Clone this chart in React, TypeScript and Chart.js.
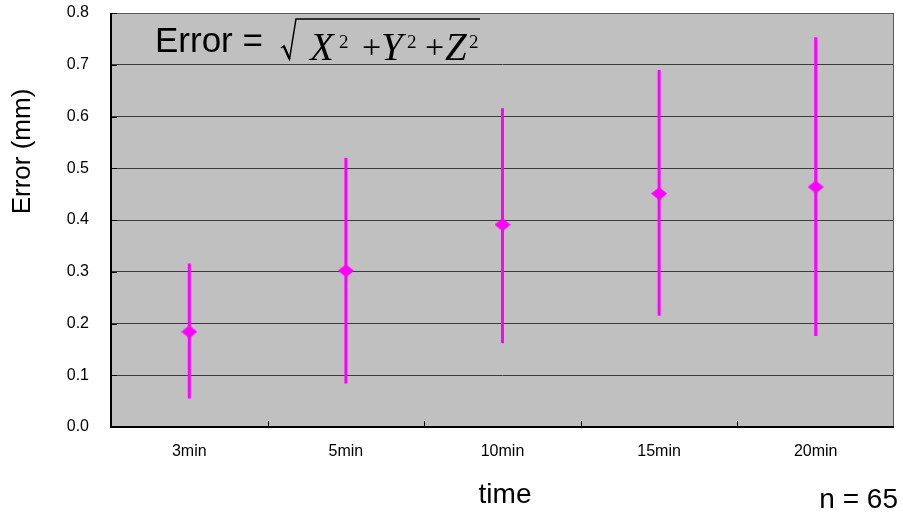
import React, { useEffect, useRef } from "react";
import { Chart, registerables } from "chart.js";

Chart.register(...registerables);

const categories = ["3min", "5min", "10min", "15min", "20min"];
const meanError = [0.184, 0.302, 0.391, 0.451, 0.464];
const upperError = [0.316, 0.52, 0.616, 0.69, 0.753];
const lowerError = [0.055, 0.084, 0.162, 0.215, 0.176];
const yMin = 0;
const yMax = 0.8;
const yStep = 0.1;
const yAxisTitle = "Error (mm)";
const xAxisTitle = "time";
const sampleNote = "n = 65";
const formulaLead = "Error =";
const formulaVars = ["X", "Y", "Z"];

const SANS = '"Liberation Sans", Arial, sans-serif';
const SERIF = '"Liberation Serif", "Times New Roman", serif';
const MAGENTA = "#FF00FF";

function makeDiamond(): HTMLCanvasElement {
  const c = document.createElement("canvas");
  c.width = 16;
  c.height = 13;
  const g = c.getContext("2d")!;
  g.fillStyle = MAGENTA;
  g.beginPath();
  g.moveTo(8, 0);
  g.lineTo(16, 6.5);
  g.lineTo(8, 13);
  g.lineTo(0, 6.5);
  g.closePath();
  g.fill();
  return c;
}

const plotBackground = {
  id: "plotBackground",
  beforeDraw(chart: any) {
    const { ctx, chartArea } = chart;
    ctx.save();
    ctx.fillStyle = "#C0C0C0";
    ctx.fillRect(chartArea.left, chartArea.top, chartArea.right - chartArea.left, chartArea.bottom - chartArea.top);
    ctx.restore();
  },
};

const errorBars = {
  id: "errorBars",
  beforeDatasetsDraw(chart: any) {
    const { ctx, scales } = chart;
    const x = scales.x;
    const y = scales.y;
    ctx.save();
    ctx.strokeStyle = MAGENTA;
    ctx.lineWidth = 3;
    categories.forEach((_, i) => {
      const px = x.getPixelForValue(i);
      ctx.beginPath();
      ctx.moveTo(px, y.getPixelForValue(upperError[i]));
      ctx.lineTo(px, y.getPixelForValue(lowerError[i]));
      ctx.stroke();
    });
    ctx.restore();
  },
};

const frameAndText = {
  id: "frameAndText",
  afterDraw(chart: any) {
    const { ctx, chartArea, scales } = chart;
    const { left, right, top, bottom } = chartArea;
    ctx.save();
    // top & right border (gray)
    ctx.strokeStyle = "#5a5a5a";
    ctx.lineWidth = 1;
    ctx.beginPath();
    ctx.moveTo(left, top + 0.5);
    ctx.lineTo(right - 0.5, top + 0.5);
    ctx.lineTo(right - 0.5, bottom);
    ctx.stroke();
    // left & bottom axes (black)
    ctx.fillStyle = "#000";
    ctx.fillRect(left - 1, top, 2, bottom - top + 1);
    ctx.fillRect(left - 1, bottom - 1, right - left + 1, 2);
    // inward tick marks
    ctx.strokeStyle = "#000";
    ctx.lineWidth = 1;
    const y = scales.y;
    for (let v = yMin; v <= yMax + 1e-9; v += yStep) {
      const py = Math.round(y.getPixelForValue(v)) + 0.5;
      ctx.beginPath();
      ctx.moveTo(left, py);
      ctx.lineTo(left + 6, py);
      ctx.stroke();
    }
    const n = categories.length;
    const w = (right - left) / n;
    for (let i = 1; i < n; i++) {
      const px = Math.round(left + i * w) + 0.5;
      ctx.beginPath();
      ctx.moveTo(px, bottom);
      ctx.lineTo(px, bottom - 6);
      ctx.stroke();
    }
    // y axis title
    ctx.fillStyle = "#000";
    ctx.save();
    ctx.translate(23, 151.5);
    ctx.rotate(-Math.PI / 2);
    ctx.font = "26px " + SANS;
    ctx.textAlign = "center";
    ctx.textBaseline = "middle";
    ctx.fillText(yAxisTitle, 0, 0);
    ctx.restore();
    // x axis title
    ctx.font = "28px " + SANS;
    ctx.textAlign = "center";
    ctx.textBaseline = "alphabetic";
    ctx.fillText(xAxisTitle, 505, 503);
    // sample note
    ctx.textAlign = "right";
    ctx.fillText(sampleNote, 898, 508);
    // formula
    ctx.textAlign = "left";
    ctx.font = "35px " + SANS;
    ctx.fillText(formulaLead, 155, 52);
    // radical sign
    ctx.strokeStyle = "#000";
    ctx.lineWidth = 1.5;
    ctx.beginPath();
    ctx.moveTo(281, 48);
    ctx.lineTo(284, 46);
    ctx.lineTo(289.5, 59);
    ctx.lineTo(296, 19);
    ctx.lineTo(480, 19);
    ctx.stroke();
    ctx.lineWidth = 2.2;
    ctx.beginPath();
    ctx.moveTo(284, 46.5);
    ctx.lineTo(289.5, 59);
    ctx.stroke();
    const varX = [310, 381, 445];
    const supX = [339, 407, 469];
    const plusX = [362, 425];
    formulaVars.forEach((v, i) => {
      ctx.font = "italic 39px " + SERIF;
      ctx.fillText(v, varX[i], 60);
      ctx.font = "19px " + SERIF;
      ctx.fillText("2", supX[i], 48);
      if (i < plusX.length) {
        ctx.font = "34px " + SERIF;
        ctx.fillText("+", plusX[i], 58);
      }
    });
    ctx.restore();
  },
};

export default function App() {
  const ref = useRef<HTMLCanvasElement | null>(null);
  useEffect(() => {
    if (!ref.current) return;
    const diamond = makeDiamond();
    const chart = new Chart(ref.current, {
      type: "line",
      data: {
        labels: categories,
        datasets: [
          {
            data: meanError,
            showLine: false,
            pointStyle: diamond as any,
            pointRadius: 8,
            backgroundColor: MAGENTA,
            borderColor: MAGENTA,
          },
        ],
      },
      options: {
        responsive: false,
        animation: false,
        events: [],
        layout: { padding: { left: 0, right: 7, top: 13, bottom: 0 } },
        plugins: {
          legend: { display: false },
          tooltip: { enabled: false },
          title: { display: false },
        },
        scales: {
          x: {
            type: "category",
            offset: true,
            grid: { display: false, drawTicks: false },
            border: { display: false },
            ticks: {
              color: "#000",
              font: { family: SANS, size: 16 },
              padding: 15,
              maxRotation: 0,
            },
            afterFit: (s: any) => {
              s.height = 86;
              s.paddingLeft = 0;
              s.paddingRight = 0;
            },
          },
          y: {
            min: yMin,
            max: yMax,
            grid: { color: "#3c3c3c", lineWidth: 1, drawTicks: false },
            border: { display: false },
            ticks: {
              stepSize: yStep,
              color: "#000",
              font: { family: SANS, size: 16 },
              padding: 22,
              callback: (v: any) => Number(v).toFixed(1),
            },
            afterFit: (s: any) => {
              s.width = 111;
              s.paddingTop = 0;
              s.paddingBottom = 0;
            },
          },
        },
      },
      plugins: [plotBackground, errorBars, frameAndText],
    });
    return () => chart.destroy();
  }, []);
  return (
    <div style={{ position: "fixed", left: 0, top: 0, width: 903, height: 513, background: "#fff" }}>
      <canvas ref={ref} width={903} height={513} style={{ display: "block" }} />
    </div>
  );
}
